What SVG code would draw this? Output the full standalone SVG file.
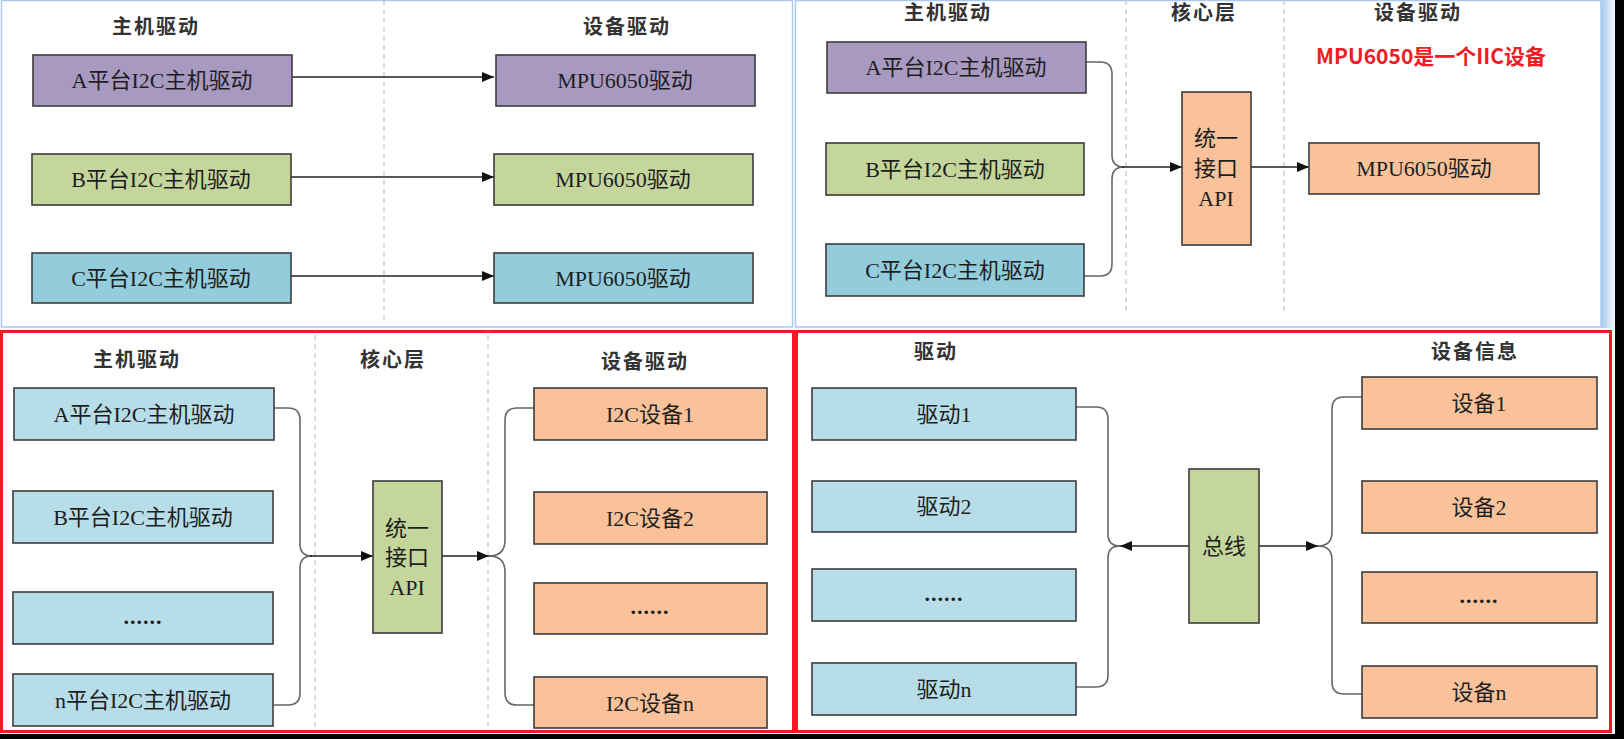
<svg xmlns="http://www.w3.org/2000/svg" width="1624" height="739" viewBox="0 0 1624 739">
<defs>
<marker id="ah" viewBox="0 0 12 10" refX="12" refY="5" markerWidth="12" markerHeight="10" markerUnits="userSpaceOnUse" orient="auto"><path d="M0,0 L12,5 L0,10 z" fill="#111"/></marker>
<linearGradient id="edge" x1="0" y1="0" x2="1" y2="0"><stop offset="0" stop-color="#a9c9f0"/><stop offset="1" stop-color="#f4f8fd"/></linearGradient>
<style>
.box{stroke:#3c3c3c;stroke-width:1.6}
.pur{fill:#a899c1}.grn{fill:#c4d69c}.teal{fill:#93cddc}.lb{fill:#b7dde8}.org{fill:#f9c29a}
.t{font-family:"Liberation Serif","Noto Sans CJK SC",serif;font-size:22px;fill:#1e1e1e;text-anchor:middle;dominant-baseline:central}
.dots{font-weight:bold;letter-spacing:1px}
.h{font-family:"Liberation Serif","Noto Sans CJK SC",serif;font-size:20px;fill:#333;text-anchor:middle;dominant-baseline:central;letter-spacing:2px;font-weight:bold}
.dash{stroke:#c4c4c4;stroke-width:1.2;stroke-dasharray:5,4;fill:none}
.arr{stroke:#222;stroke-width:1.6;fill:none}
.cur{stroke:#666;stroke-width:1.6;fill:none}
.red{fill:none;stroke:#ed1c24;stroke-width:3}
</style>
</defs>
<rect width="1624" height="739" fill="#fff"/>
<g id="frames">
<rect x="1.5" y="0.5" width="791" height="326.5" fill="none" stroke="#a9c9f0" stroke-width="1.5"/>
<rect x="795.5" y="0.5" width="805.5" height="326.5" fill="none" stroke="#a9c9f0" stroke-width="1.5"/>
<rect x="1601" y="0" width="14" height="328" fill="url(#edge)"/>
<rect x="1615" y="0" width="9" height="739" fill="#000"/>
<rect x="0" y="734" width="1624" height="5" fill="#000"/>
<rect class="red" x="1.5" y="331.5" width="792" height="400"/>
<rect class="red" x="796.5" y="331.5" width="814" height="400"/>
</g>
<g id="separators">
<line class="dash" x1="384" y1="0" x2="384" y2="320"/>
<line class="dash" x1="1126" y1="0" x2="1126" y2="312"/>
<line class="dash" x1="1284" y1="0" x2="1284" y2="312"/>
<line class="dash" x1="315" y1="335" x2="315" y2="729"/>
<line class="dash" x1="488" y1="335" x2="488" y2="729"/>
</g>
<g id="headers">
<text class="h" x="156" y="27">主机驱动</text>
<text class="h" x="627" y="27">设备驱动</text>
<text class="h" x="948" y="13">主机驱动</text>
<text class="h" x="1204" y="13">核心层</text>
<text class="h" x="1418" y="13">设备驱动</text>
<text x="1431" y="55" font-family="'Noto Sans CJK SC','Liberation Sans',sans-serif" font-size="21" font-weight="bold" fill="#ee1c25" text-anchor="middle" dominant-baseline="central">MPU6050是一个IIC设备</text>
<text class="h" x="137" y="360">主机驱动</text>
<text class="h" x="393" y="360">核心层</text>
<text class="h" x="645" y="362">设备驱动</text>
<text class="h" x="936" y="352">驱动</text>
<text class="h" x="1475" y="352">设备信息</text>
</g>
<g id="connectors">
<line class="arr" x1="292" y1="77" x2="494" y2="77" marker-end="url(#ah)"/>
<line class="arr" x1="291" y1="177" x2="494" y2="177" marker-end="url(#ah)"/>
<line class="arr" x1="291" y1="276" x2="494" y2="276" marker-end="url(#ah)"/>
<path class="cur" d="M1086,62 H1100 Q1112,62 1112,74 V155 Q1112,167 1124,167"/>
<path class="cur" d="M1084,276 H1100 Q1112,276 1112,264 V179 Q1112,167 1124,167"/>
<line class="arr" x1="1122" y1="167" x2="1182" y2="167" marker-end="url(#ah)"/>
<line class="arr" x1="1251" y1="167" x2="1309" y2="167" marker-end="url(#ah)"/>
<path class="cur" d="M274,408 H288 Q300,408 300,420 V544 Q300,556 312,556"/>
<path class="cur" d="M274,705 H288 Q300,705 300,693 V568 Q300,556 312,556"/>
<line class="arr" x1="310" y1="556" x2="373" y2="556" marker-end="url(#ah)"/>
<line class="arr" x1="442" y1="556" x2="489" y2="556" marker-end="url(#ah)"/>
<path class="cur" d="M489,556 Q505,556 505,540 V420 Q505,408 517,408 H534"/>
<path class="cur" d="M489,556 Q505,556 505,572 V693 Q505,705 517,705 H534"/>
<path class="cur" d="M1076,407 H1096 Q1108,407 1108,419 V534 Q1108,546 1120,546"/>
<path class="cur" d="M1076,687 H1096 Q1108,687 1108,675 V558 Q1108,546 1120,546"/>
<line class="arr" x1="1189" y1="546" x2="1120" y2="546" marker-end="url(#ah)"/>
<line class="arr" x1="1259" y1="546" x2="1318" y2="546" marker-end="url(#ah)"/>
<path class="cur" d="M1318,546 Q1332,546 1332,532 V409 Q1332,397 1344,397 H1362"/>
<path class="cur" d="M1318,546 Q1332,546 1332,560 V682 Q1332,694 1344,694 H1362"/>
</g>
<g id="p1-a"><rect class="box pur" x="33" y="55" width="259" height="51"/><text class="t" x="162" y="80">A平台I2C主机驱动</text></g>
<g id="p1-b"><rect class="box grn" x="32" y="154" width="259" height="51"/><text class="t" x="161" y="179">B平台I2C主机驱动</text></g>
<g id="p1-c"><rect class="box teal" x="32" y="253" width="259" height="50"/><text class="t" x="161" y="278">C平台I2C主机驱动</text></g>
<g id="p1-ma"><rect class="box pur" x="496" y="55" width="259" height="51"/><text class="t" x="625" y="80">MPU6050驱动</text></g>
<g id="p1-mb"><rect class="box grn" x="494" y="154" width="259" height="51"/><text class="t" x="623" y="179">MPU6050驱动</text></g>
<g id="p1-mc"><rect class="box teal" x="494" y="253" width="259" height="50"/><text class="t" x="623" y="278">MPU6050驱动</text></g>
<g id="p2-a"><rect class="box pur" x="827" y="42" width="259" height="51"/><text class="t" x="956" y="67">A平台I2C主机驱动</text></g>
<g id="p2-b"><rect class="box grn" x="826" y="143" width="258" height="52"/><text class="t" x="955" y="169">B平台I2C主机驱动</text></g>
<g id="p2-c"><rect class="box teal" x="826" y="244" width="258" height="52"/><text class="t" x="955" y="270">C平台I2C主机驱动</text></g>
<g id="p2-api"><rect class="box org" x="1182" y="92" width="69" height="153"/><text class="t" x="1216" y="138">统一</text><text class="t" x="1216" y="168">接口</text><text class="t" x="1216" y="198">API</text></g>
<g id="p2-m"><rect class="box org" x="1309" y="143" width="230" height="51"/><text class="t" x="1424" y="168">MPU6050驱动</text></g>
<g id="p3-a"><rect class="box lb" x="14" y="388" width="260" height="52"/><text class="t" x="144" y="414">A平台I2C主机驱动</text></g>
<g id="p3-b"><rect class="box lb" x="13" y="491" width="260" height="52"/><text class="t" x="143" y="517">B平台I2C主机驱动</text></g>
<g id="p3-d"><rect class="box lb" x="13" y="592" width="260" height="52"/><text class="t dots" x="143" y="616">......</text></g>
<g id="p3-n"><rect class="box lb" x="13" y="674" width="260" height="52"/><text class="t" x="143" y="700">n平台I2C主机驱动</text></g>
<g id="p3-api"><rect class="box grn" x="373" y="481" width="69" height="152"/><text class="t" x="407" y="528">统一</text><text class="t" x="407" y="557">接口</text><text class="t" x="407" y="587">API</text></g>
<g id="p3-d1"><rect class="box org" x="534" y="388" width="233" height="52"/><text class="t" x="650" y="414">I2C设备1</text></g>
<g id="p3-d2"><rect class="box org" x="534" y="492" width="233" height="52"/><text class="t" x="650" y="518">I2C设备2</text></g>
<g id="p3-dd"><rect class="box org" x="534" y="583" width="233" height="51"/><text class="t dots" x="650" y="606">......</text></g>
<g id="p3-dn"><rect class="box org" x="534" y="677" width="233" height="51"/><text class="t" x="650" y="703">I2C设备n</text></g>
<g id="p4-1"><rect class="box lb" x="812" y="388" width="264" height="52"/><text class="t" x="944" y="414">驱动1</text></g>
<g id="p4-2"><rect class="box lb" x="812" y="481" width="264" height="51"/><text class="t" x="944" y="506">驱动2</text></g>
<g id="p4-d"><rect class="box lb" x="812" y="569" width="264" height="52"/><text class="t dots" x="944" y="593">......</text></g>
<g id="p4-n"><rect class="box lb" x="812" y="663" width="264" height="52"/><text class="t" x="944" y="689">驱动n</text></g>
<g id="p4-bus"><rect class="box grn" x="1189" y="469" width="70" height="154"/><text class="t" x="1224" y="546">总线</text></g>
<g id="p4-s1"><rect class="box org" x="1362" y="377" width="235" height="52"/><text class="t" x="1479" y="403">设备1</text></g>
<g id="p4-s2"><rect class="box org" x="1362" y="481" width="235" height="52"/><text class="t" x="1479" y="507">设备2</text></g>
<g id="p4-sd"><rect class="box org" x="1362" y="572" width="235" height="51"/><text class="t dots" x="1479" y="595">......</text></g>
<g id="p4-sn"><rect class="box org" x="1362" y="666" width="235" height="52"/><text class="t" x="1479" y="692">设备n</text></g>
</svg>
